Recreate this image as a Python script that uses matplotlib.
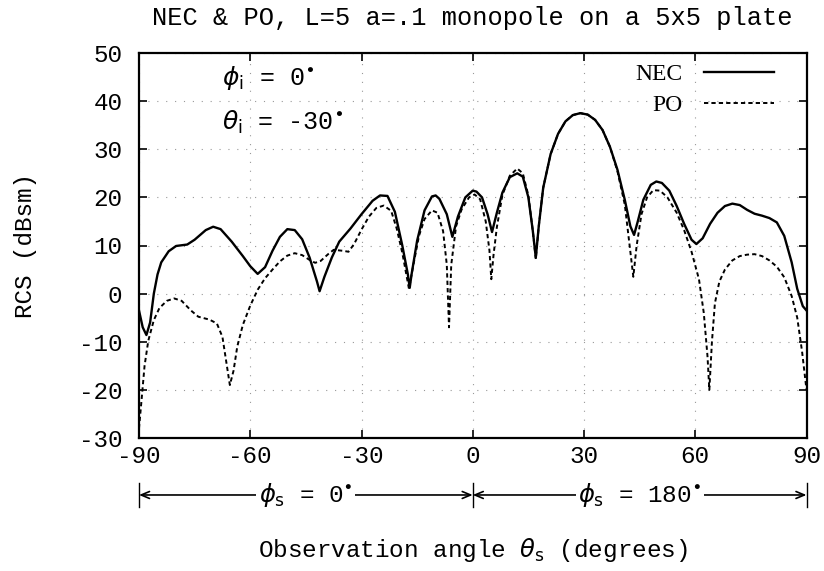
import matplotlib
matplotlib.use("Agg")
import matplotlib.pyplot as plt
import matplotlib.transforms as mtransforms

plt.rcParams['mathtext.fontset'] = 'dejavusans'

# ---- data ----
nec_theta = [-90, -89, -88, -87, -86, -85, -84, -82, -80, -77, -75, -72, -70, -68, -65,
             -62, -60, -58, -56, -54, -52, -50, -48, -46, -44, -42, -41.3, -40, -38, -36,
             -33, -30, -27, -25, -23, -21, -19, -17.5, -17, -16.5, -15, -13, -11, -10, -9,
             -7, -5.5, -4, -2, 0, 1, 2.5, 4, 5.2, 6.5, 8, 10, 12, 13.5, 15, 16.2, 17, 17.8,
             19, 21, 23, 25, 27, 29, 31, 33, 35, 37, 39, 41, 42.5, 43.5, 44.5, 46, 48, 49.5,
             51, 53, 55, 57, 59, 60.3, 62, 64, 66, 68, 70, 72, 74, 76, 78, 80, 82, 84, 86,
             87.5, 89, 90]
nec_rcs = [-3.5, -7, -8.6, -6, 0, 4, 6.5, 8.8, 9.9, 10.2, 11.2, 13.2, 13.9, 13.4, 10.8,
           7.8, 5.7, 4.1, 5.5, 8.9, 11.8, 13.4, 13.2, 11.3, 7.5, 2.5, 0.5, 3.5, 7.5, 10.8,
           13.5, 16.5, 19.3, 20.4, 20.3, 17, 10, 4, 1.2, 4, 11, 17.3, 20.2, 20.4, 19.7,
           16.5, 11.8, 16, 20, 21.4, 21.2, 20, 16.5, 12.8, 16.8, 21, 24.2, 25, 24.3, 20, 13, 7.5, 14,
           22, 29, 33.2, 35.8, 37.1, 37.5, 37.2, 36.1, 34, 30.5, 25.8, 19.5, 14, 12.2, 15, 19.5, 22.6, 23.3,
           23, 21.4, 18.2, 14.5, 11.2, 10.3, 11.5, 14.5, 16.8, 18.2, 18.7, 18.4, 17.4, 16.6, 16.2, 15.7, 14.8, 12, 6.5,
           1, -2.6, -3.5]

po_theta = [-90, -89.3, -88.5, -87.5, -86, -84.5, -82.5, -80.5, -78.5, -76, -74, -71, -69,
            -67.5, -66.5, -65.5, -64.5, -63.5, -62, -60, -58, -56, -54, -52, -50, -48, -46,
            -44, -42.5, -41, -39, -37.5, -35, -33.5, -32, -30, -28, -26, -24, -22, -20.5,
            -19, -17.2, -16, -14.5, -13, -11, -9.5, -8, -7, -6.4, -5.8, -4.5, -3, -1, 0.5,
            2, 3.5, 4.5, 5, 5.6, 6.5, 8, 10, 12, 13.5, 15, 16.2, 17, 17.8, 19, 21, 23, 25,
            27, 29, 31, 33, 35, 37, 39, 41, 42.3, 43.3, 44.2, 45.5, 47, 48.7, 50.5, 52.5,
            55, 57, 59, 61, 62.3, 63.3, 63.8, 64.5, 65.3, 66.5, 68, 70, 72, 74, 76, 78, 80,
            82, 84, 86, 87.5, 88.8, 90]
po_rcs = [-28, -22, -15, -9.8, -5.5, -3, -1.5, -1, -1.5, -3.5, -4.8, -5.4, -6.2,
          -9, -14, -19, -16, -11, -6.5, -2.5, 0.8, 3.2, 5, 6.7, 7.9, 8.4, 8,
          7, 6.4, 6.8, 8.2, 9.1, 8.9, 8.7, 10.3, 13.3, 16, 17.8, 18.3, 17.2, 13.5,
          8.5, 1, 6, 12, 15.5, 17.3, 16.8, 13, 6, -7, 6, 14, 17.5, 20, 20.6,
          19.6, 15, 9, 3, 8, 13.8, 20.5, 24.5, 26, 25, 20.4, 13, 7.2, 14, 22, 29, 33.2, 35.8,
          37.1, 37.5, 37.2, 36.1, 34, 30.5, 25.5, 18.5, 10, 3.5, 10, 16.5, 20, 21.5, 21.4, 20,
          16.8, 13.2, 8.7, 3, -4, -13, -20, -10, -2, 2.5, 5, 6.9, 7.8, 8.1, 8.2, 7.8, 6.9,
          5.6, 3.4, -0.5, -5, -12, -20]

x_ticks = [-90, -60, -30, 0, 30, 60, 90]
y_ticks = [-30, -20, -10, 0, 10, 20, 30, 40, 50]

mono = 'Liberation Mono'
fs = 17.5

fig = plt.figure(figsize=(8.24, 5.71), dpi=100)
ax = fig.add_axes([139/824, 1 - 438/571, (806.5 - 139)/824, (438 - 53)/571])

ax.plot(nec_theta, nec_rcs, color='black', lw=1.7, solid_joinstyle='round', label='NEC')
ax.plot(po_theta, po_rcs, color='black', lw=1.4, linestyle=(0, (2.2, 1.6)), label='PO')

ax.set_xlim(-90, 90)
ax.set_ylim(-30, 50)
ax.set_xticks(x_ticks)
ax.set_yticks(y_ticks)
ax.set_xticklabels([str(v) for v in x_ticks], fontfamily=mono, fontsize=fs)
ax.set_yticklabels([str(v) for v in y_ticks], fontfamily=mono, fontsize=fs)
ax.tick_params(direction='in', length=6, width=1.2, top=True, right=True)
ax.tick_params(axis='y', pad=12)
ax.tick_params(axis='x', pad=5)
ax.grid(True, color='0.6', linestyle=(0, (1, 7)), lw=0.8)
for s in ax.spines.values():
    s.set_linewidth(1.6)

ax.set_title('NEC & PO, L=5 a=.1 monopole on a 5x5 plate', fontfamily=mono,
             fontsize=18.3, pad=20)
ax.set_ylabel('RCS (dBsm)', fontfamily=mono, fontsize=fs, labelpad=30)
ax.set_xlabel(r'Observation angle $\theta_\mathrm{s}$ (degrees)', fontfamily=mono,
              fontsize=fs, labelpad=49)

leg = ax.legend(loc='upper right', bbox_to_anchor=(0.952, 0.972), markerfirst=False,
                frameon=False, prop={'family': 'Liberation Serif', 'size': 17},
                handlelength=3.0, labelspacing=0.4, borderaxespad=0.0,
                handletextpad=0.9, borderpad=0.0)

ax.text(0.124, 0.935, r'$\phi_\mathrm{i}$ = 0$^{\bullet}$', transform=ax.transAxes,
        fontfamily=mono, fontsize=18, va='center', ha='left')
ax.text(0.124, 0.82, r'$\theta_\mathrm{i}$ = -30$^{\bullet}$', transform=ax.transAxes,
        fontfamily=mono, fontsize=18, va='center', ha='left')

# phi_s range annotations under the axis
trans = mtransforms.blended_transform_factory(ax.transData, ax.transAxes)
yarr = -0.148
for xb in [-90, 0, 90]:
    ax.plot([xb, xb], [yarr - 0.03, yarr + 0.03], transform=trans, color='black',
            lw=1.0, clip_on=False)
for x0, x1, lab in [(-90, 0, r'$\phi_\mathrm{s}$ = 0$^{\bullet}$'),
                    (0, 90, r'$\phi_\mathrm{s}$ = 180$^{\bullet}$')]:
    ax.annotate('', xy=(x0, yarr), xytext=(x1, yarr), xycoords=trans, textcoords=trans,
                arrowprops=dict(arrowstyle='<->,head_length=0.6,head_width=0.25',
                                color='black', lw=1.2, shrinkA=0, shrinkB=0),
                annotation_clip=False)
    ax.text((x0 + x1) / 2, yarr, lab, transform=trans, ha='center', va='center',
            fontfamily=mono, fontsize=fs,
            bbox=dict(facecolor='white', edgecolor='none', pad=2))

fig.savefig('out.png', dpi=100)
